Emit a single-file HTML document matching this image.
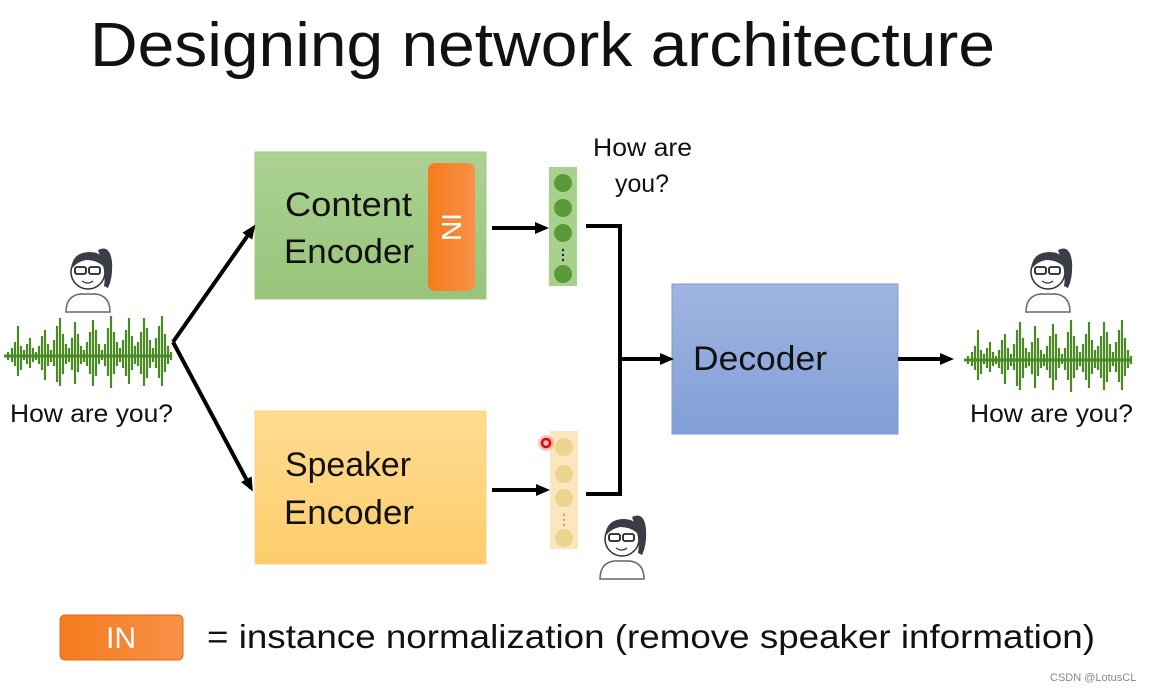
<!DOCTYPE html>
<html><head><meta charset="utf-8"><style>
html,body{margin:0;padding:0;background:#fff;}
svg{display:block;font-family:"Liberation Sans",sans-serif;}
</style></head><body>
<svg width="1160" height="690" viewBox="0 0 1160 690" xmlns="http://www.w3.org/2000/svg">
<defs>
<linearGradient id="gg" x1="0" y1="0" x2="0" y2="1"><stop offset="0" stop-color="#acd293"/><stop offset="1" stop-color="#97c47a"/></linearGradient>
<linearGradient id="yg" x1="0" y1="0" x2="0" y2="1"><stop offset="0" stop-color="#ffdc92"/><stop offset="1" stop-color="#fdcd6b"/></linearGradient>
<linearGradient id="bg" x1="0" y1="0" x2="0" y2="1"><stop offset="0" stop-color="#a0b5e0"/><stop offset="1" stop-color="#809fd6"/></linearGradient>
<linearGradient id="og" x1="0" y1="0" x2="1" y2="0"><stop offset="0" stop-color="#f57a1c"/><stop offset="1" stop-color="#f89147"/></linearGradient>
<marker id="ah" markerWidth="14" markerHeight="14" refX="10" refY="7" orient="auto" markerUnits="userSpaceOnUse"><path d="M0,1 L14,7 L0,13 z" fill="#000"/></marker>
<g id="person">
<path d="M-22,44 Q-22,28 -8,26 L8,26 Q22,28 22,44 Z" fill="#fff" stroke="#666" stroke-width="1.5"/>
<circle cx="0" cy="4" r="17" fill="#fff" stroke="#333" stroke-width="1.5"/>
<path d="M-17,2 Q-16,-16 2,-16 Q14,-16 16,-6 L17,0 Q10,-8 -2,-8 Q-12,-6 -17,2 Z" fill="#3a3d45"/>
<path d="M10,-18 Q22,-24 24,-6 Q25,10 20,20 L16,18 Q18,6 14,-6 Z" fill="#3a3d45"/>
<rect x="-13" y="-1" width="11" height="7" rx="2" fill="none" stroke="#222" stroke-width="1.8"/>
<rect x="1" y="-1" width="11" height="7" rx="2" fill="none" stroke="#222" stroke-width="1.8"/>
<path d="M-6,13 Q0,17 5,13" fill="none" stroke="#333" stroke-width="1.2"/>
</g>
<g id="wave" stroke="#4a8a24" stroke-width="2.2">
<path d="M0,0 H168" stroke-width="3"/>
<path d="M4,-4V4 M8,-8V6 M11,-14V10 M14,-30V20 M17,-10V14 M20,-6V4 M23,-12V8 M26,-18V12 M29,-8V6 M32,-4V4 M35,-10V8 M38,-20V14 M41,-26V24 M44,-12V10 M47,-6V6 M50,-16V10 M53,-30V26 M56,-38V30 M59,-22V18 M62,-12V8 M65,-8V6 M68,-18V14 M71,-34V28 M74,-22V16 M77,-10V8 M80,-6V6 M83,-14V10 M86,-24V18 M89,-36V30 M92,-26V20 M95,-12V8 M98,-6V4 M101,-12V10 M104,-28V20 M107,-40V32 M110,-24V18 M113,-14V10 M116,-8V6 M119,-16V12 M122,-26V20 M125,-38V28 M128,-20V14 M131,-10V8 M134,-14V10 M137,-24V18 M140,-38V30 M143,-28V22 M146,-16V12 M149,-8V6 M152,-18V12 M155,-30V22 M158,-40V30 M161,-22V16 M164,-10V8 M167,-4V4"/>
</g>
</defs>

<text x="90" y="66" font-size="62" fill="#111" textLength="905" lengthAdjust="spacingAndGlyphs">Designing network architecture</text>

<rect x="255" y="152" width="231" height="147" fill="url(#gg)" stroke="#a3c78a" stroke-width="1"/>
<rect x="428" y="163" width="47" height="128" rx="7" fill="url(#og)"/>
<text x="0" y="0" font-size="28" fill="#fff" transform="translate(442,227) rotate(90)" text-anchor="middle">IN</text>
<text x="285" y="216" font-size="34" fill="#111" textLength="127" lengthAdjust="spacingAndGlyphs">Content</text>
<text x="284" y="263" font-size="34" fill="#111" textLength="130" lengthAdjust="spacingAndGlyphs">Encoder</text>

<rect x="255" y="411" width="231" height="153" fill="url(#yg)" stroke="#f7d48a" stroke-width="1"/>
<text x="285" y="476" font-size="34" fill="#111" textLength="126" lengthAdjust="spacingAndGlyphs">Speaker</text>
<text x="284" y="524" font-size="34" fill="#111" textLength="130" lengthAdjust="spacingAndGlyphs">Encoder</text>

<rect x="672" y="284" width="226" height="150" fill="url(#bg)" stroke="#7f9bd0" stroke-width="1"/>
<text x="693" y="370" font-size="34" fill="#111" textLength="134" lengthAdjust="spacingAndGlyphs">Decoder</text>

<rect x="549" y="167" width="28" height="119" fill="#a9d18e"/>
<g fill="#5b9a36"><circle cx="563" cy="183" r="9"/><circle cx="563" cy="208" r="9"/><circle cx="563" cy="233" r="9"/><circle cx="563" cy="274" r="9"/></g>
<g fill="#222"><circle cx="563" cy="250" r="1.2"/><circle cx="563" cy="255" r="1.2"/><circle cx="563" cy="260" r="1.2"/></g>

<rect x="550" y="431" width="28" height="118" fill="#fbe6bf"/>
<g fill="#ecd48e"><circle cx="564" cy="447" r="9"/><circle cx="564" cy="474" r="9"/><circle cx="564" cy="498" r="9"/><circle cx="564" cy="538" r="9"/></g>
<g fill="#e0a030"><circle cx="564" cy="515" r="1.2"/><circle cx="564" cy="520" r="1.2"/><circle cx="564" cy="525" r="1.2"/></g>
<circle cx="546" cy="443" r="8" fill="#ff4040" opacity="0.3"/>
<circle cx="546" cy="443" r="4" fill="none" stroke="#e00" stroke-width="2.5"/>

<g stroke="#000" stroke-width="4" fill="none">
<line x1="173" y1="342" x2="253" y2="228" marker-end="url(#ah)"/>
<line x1="173" y1="342" x2="251" y2="488" marker-end="url(#ah)"/>
<line x1="492" y1="228" x2="545" y2="228" marker-end="url(#ah)"/>
<line x1="492" y1="490" x2="546" y2="490" marker-end="url(#ah)"/>
<path d="M586,226 H620 V494 H586"/>
<line x1="620" y1="359" x2="670" y2="359" marker-end="url(#ah)"/>
<line x1="898" y1="359" x2="950" y2="359" marker-end="url(#ah)"/>
</g>

<use href="#wave" x="4" y="356"/>
<use href="#wave" x="964" y="360"/>

<use href="#person" x="88" y="268"/>
<use href="#person" x="1048" y="268"/>
<use href="#person" x="622" y="535"/>

<text x="10" y="422" font-size="25" fill="#111" textLength="163" lengthAdjust="spacingAndGlyphs">How are you?</text>
<text x="970" y="422" font-size="25" fill="#111" textLength="163" lengthAdjust="spacingAndGlyphs">How are you?</text>
<text x="593" y="156" font-size="25" fill="#111" textLength="99" lengthAdjust="spacingAndGlyphs">How are</text>
<text x="615" y="192" font-size="25" fill="#111" textLength="54" lengthAdjust="spacingAndGlyphs">you?</text>

<rect x="60" y="615" width="123" height="45" rx="5" fill="url(#og)" stroke="#e06a10"/>
<text x="121" y="648" font-size="30" fill="#fff" text-anchor="middle">IN</text>
<text x="207" y="648" font-size="33" fill="#111" textLength="888" lengthAdjust="spacingAndGlyphs">= instance normalization  (remove speaker information)</text>
<text x="1050" y="681" font-size="11" fill="#888">CSDN @LotusCL</text>
</svg>
</body></html>
